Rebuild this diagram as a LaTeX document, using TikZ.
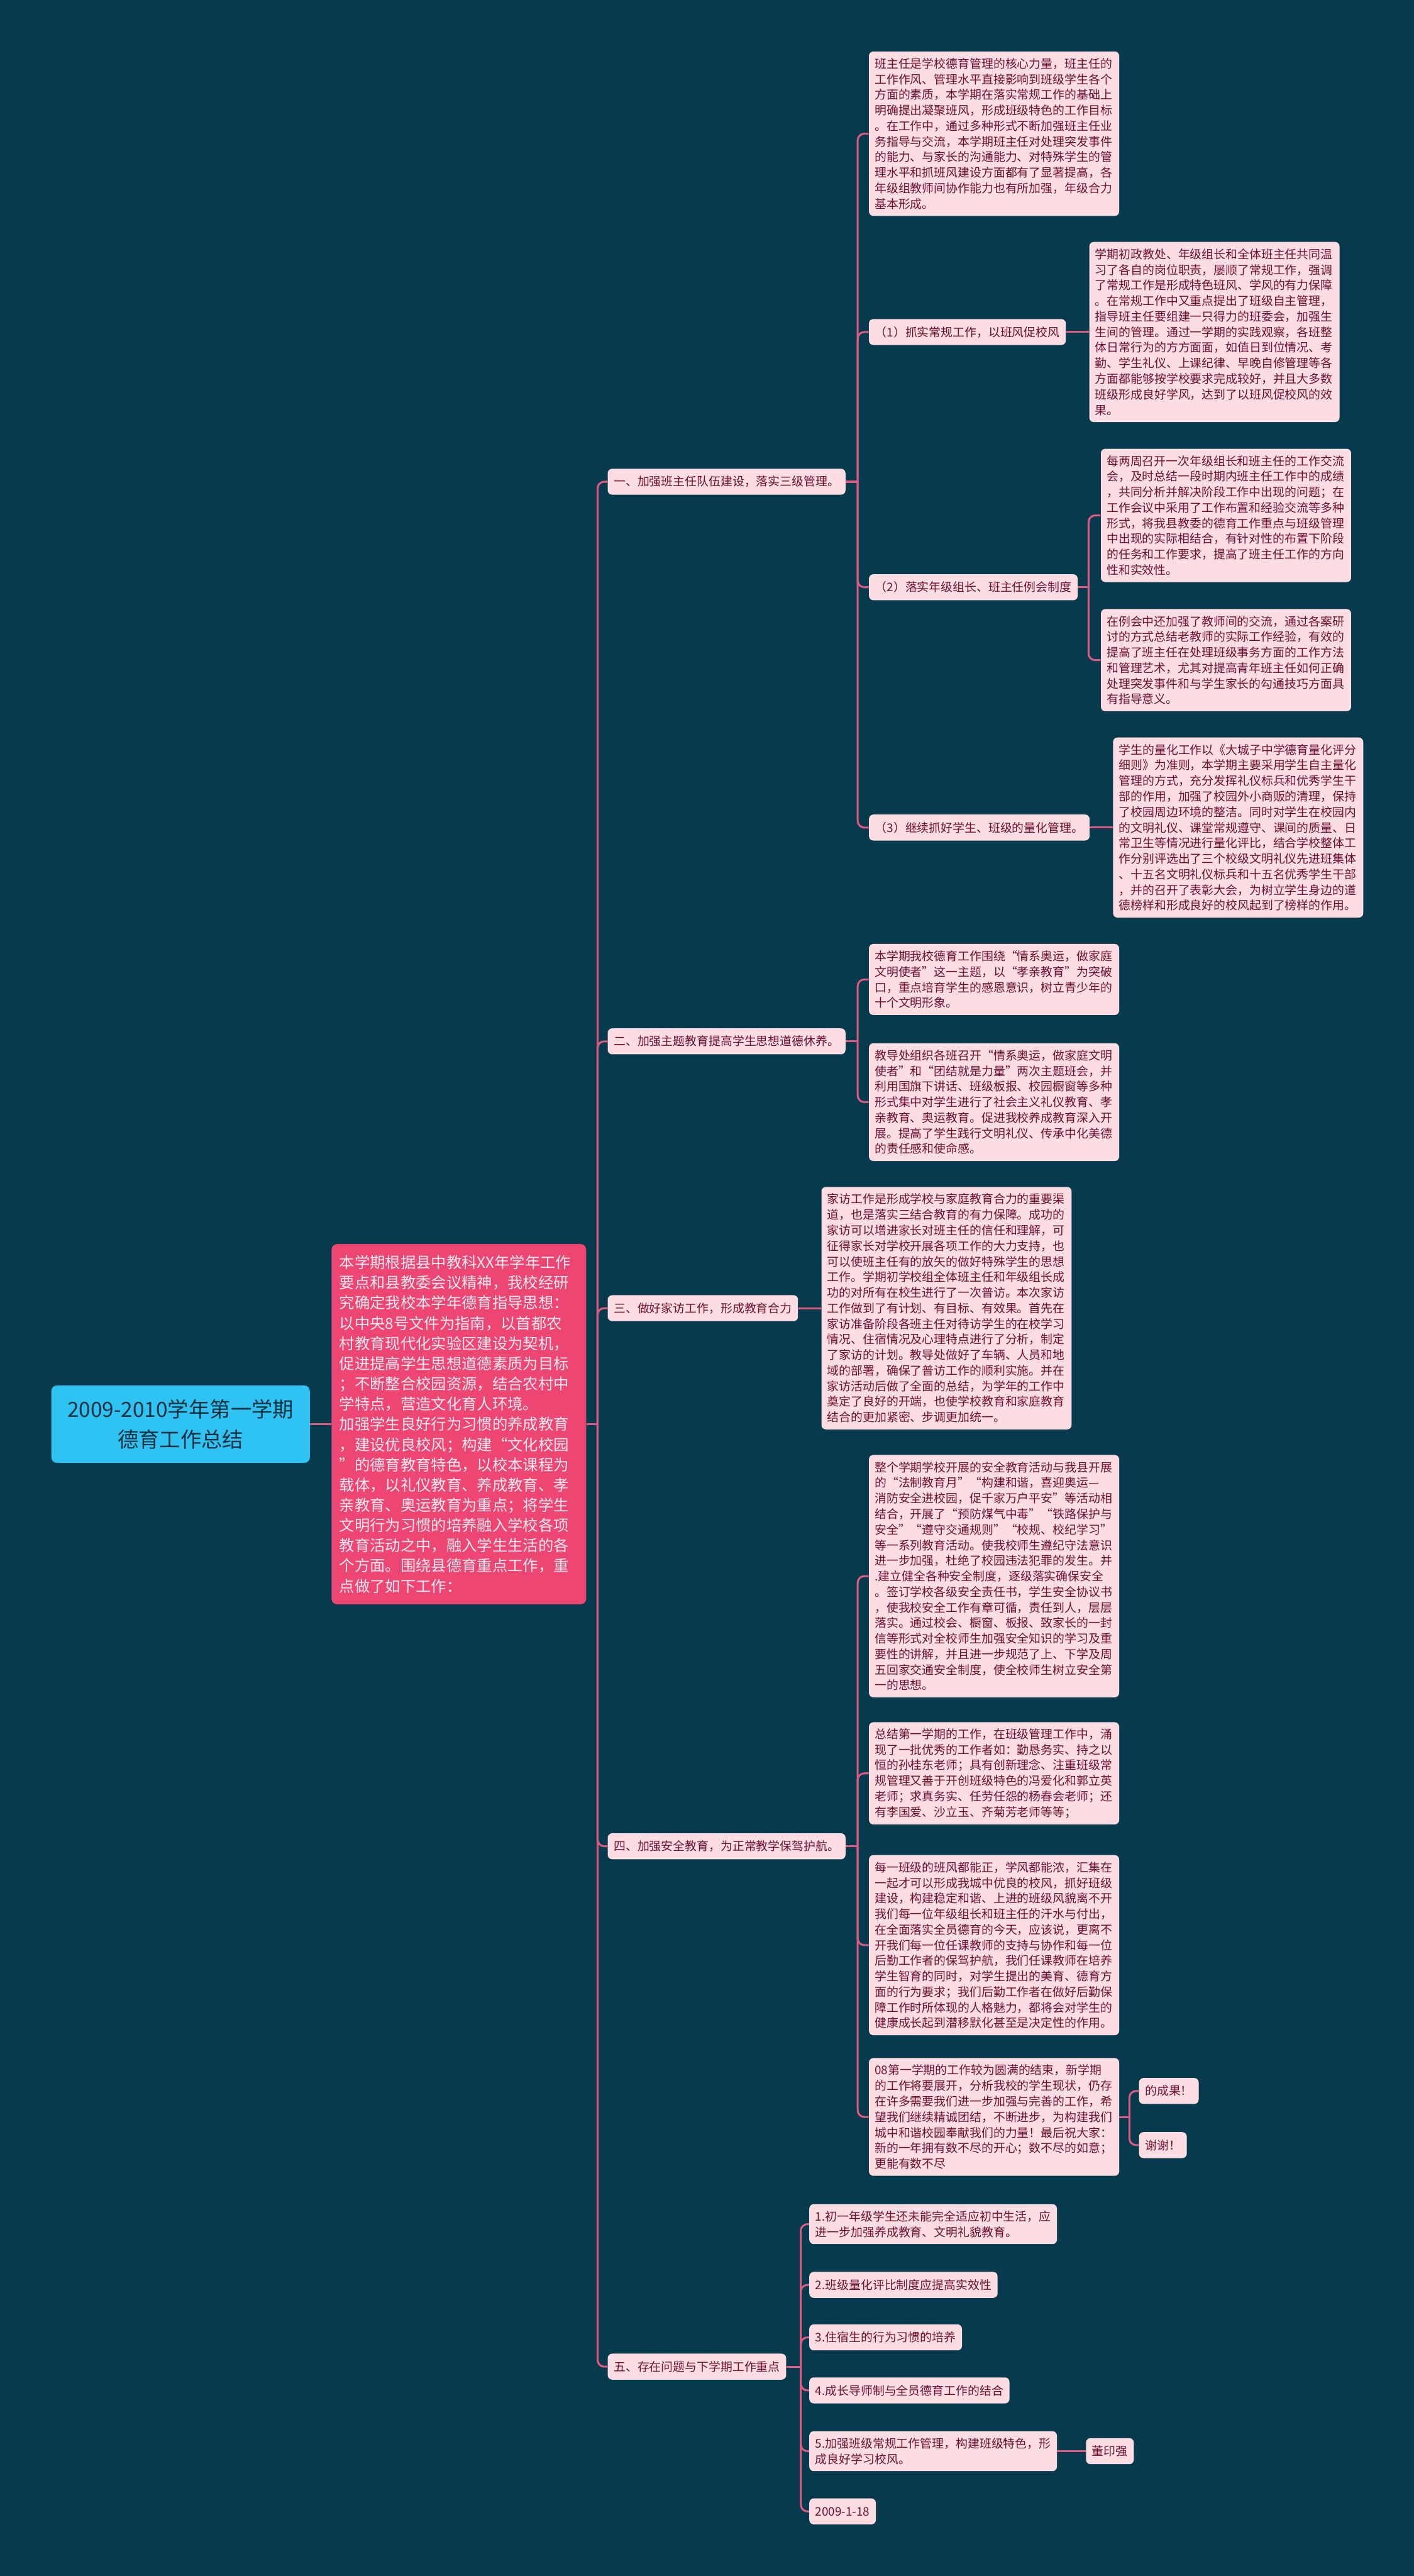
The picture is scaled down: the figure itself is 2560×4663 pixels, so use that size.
\documentclass[tikz,border=0pt]{standalone}
\usepackage{fontspec}
\setmainfont{Noto Sans CJK SC}
\newfontfamily\fwfont[RawFeature=+fwid]{Noto Sans CJK SC}
\newcommand\myql{{\fwfont “}}
\newcommand\myqr{{\fwfont ”}}
\definecolor{bgcol}{HTML}{083A4E}
\definecolor{leafcol}{HTML}{FCDDE4}
\definecolor{leaftext}{HTML}{6E1030}
\definecolor{linkcol}{HTML}{DD5A82}
\definecolor{sumcol}{HTML}{EE4673}
\definecolor{sumtext}{HTML}{FFE9F0}
\definecolor{rootcol}{HTML}{2EC3F3}
\definecolor{roottext}{HTML}{12303F}
\tikzset{
  basebox/.style={rounded corners=4pt, inner ysep=2pt, align=left},
  leaf/.style={basebox, fill=leafcol, text=leaftext, font=\fontsize{10.75pt}{14.1pt}\selectfont, text width=216pt, inner xsep=5.25pt, anchor=west},
  nlines/.style={minimum height={(#1-1)*14.1pt+22pt}},
  tag/.style={basebox, fill=leafcol, text=leaftext, font=\fontsize{10.75pt}{14.1pt}\selectfont, inner xsep=5.5pt, minimum height=23.5pt, anchor=west},
  conn/.style={draw=linkcol, line width=1.75pt, rounded corners=6pt},
}
\begin{document}
\begin{tikzpicture}[x=0.5pt,y=-0.5pt]
\fill[bgcol] (0,0) rectangle (2560,4663);
\useasboundingbox (0,0) rectangle (2560,4663);

% root and summary
\node[fill=rootcol, text=roottext, rounded corners=5pt, minimum width=234pt, minimum height=70pt, align=center, font=\fontsize{19pt}{27.5pt}\selectfont] (root) at (327,2578) {2009-2010学年第一学期\\德育工作总结};
\node[fill=sumcol, text=sumtext, rounded corners=5pt, anchor=west, text width=216.5pt, inner xsep=7pt, minimum height=326pt, align=left, font=\fontsize{13.85pt}{18.3pt}\selectfont] (sum) at (600,2578) {本学期根据县中教科XX年学年工作\\
要点和县教委会议精神，我校经研\\
究确定我校本学年德育指导思想：\\
以中央8号文件为指南，以首都农\\
村教育现代化实验区建设为契机，\\
促进提高学生思想道德素质为目标\\
；不断整合校园资源，结合农村中\\
学特点，营造文化育人环境。\\
加强学生良好行为习惯的养成教育\\
，建设优良校风；构建\myql 文化校园\\
\myqr 的德育教育特色，以校本课程为\\
载体，以礼仪教育、养成教育、孝\\
亲教育、奥运教育为重点；将学生\\
文明行为习惯的培养融入学校各项\\
教育活动之中，融入学生生活的各\\
个方面。围绕县德育重点工作，重\\
点做了如下工作：};

% level 1
\node[tag] (n1) at (1100,872) {一、加强班主任队伍建设，落实三级管理。};
\node[tag] (n2) at (1100,1885) {二、加强主题教育提高学生思想道德休养。};
\node[tag] (n3) at (1100,2368) {三、做好家访工作，形成教育合力};
\node[tag] (n4) at (1100,3342) {四、加强安全教育，为正常教学保驾护航。};
\node[tag] (n5) at (1100,4284) {五、存在问题与下学期工作重点};

% branch one
\node[leaf, nlines=10] (a1) at (1573,242) {班主任是学校德育管理的核心力量，班主任的\\
工作作风、管理水平直接影响到班级学生各个\\
方面的素质，本学期在落实常规工作的基础上\\
明确提出凝聚班风，形成班级特色的工作目标\\
。在工作中，通过多种形式不断加强班主任业\\
务指导与交流，本学期班主任对处理突发事件\\
的能力、与家长的沟通能力、对特殊学生的管\\
理水平和抓班风建设方面都有了显著提高，各\\
年级组教师间协作能力也有所加强，年级合力\\
基本形成。};
\node[tag] (a2) at (1573,601) {（1）抓实常规工作，以班风促校风};
\node[tag] (a3) at (1573,1063) {（2）落实年级组长、班主任例会制度};
\node[tag] (a4) at (1573,1498) {（3）继续抓好学生、班级的量化管理。};

\node[leaf, nlines=11] (b1) at (1972,601) {学期初政教处、年级组长和全体班主任共同温\\
习了各自的岗位职责，屡顺了常规工作，强调\\
了常规工作是形成特色班风、学风的有力保障\\
。在常规工作中又重点提出了班级自主管理，\\
指导班主任要组建一只得力的班委会，加强生\\
生间的管理。通过一学期的实践观察，各班整\\
体日常行为的方方面面，如值日到位情况、考\\
勤、学生礼仪、上课纪律、早晚自修管理等各\\
方面都能够按学校要求完成较好，并且大多数\\
班级形成良好学风，达到了以班风促校风的效\\
果。};
\node[leaf, nlines=8] (b2) at (1993,933) {每两周召开一次年级组长和班主任的工作交流\\
会，及时总结一段时期内班主任工作中的成绩\\
，共同分析并解决阶段工作中出现的问题；在\\
工作会议中采用了工作布置和经验交流等多种\\
形式，将我县教委的德育工作重点与班级管理\\
中出现的实际相结合，有针对性的布置下阶段\\
的任务和工作要求，提高了班主任工作的方向\\
性和实效性。};
\node[leaf, nlines=6] (b3) at (1993,1195) {在例会中还加强了教师间的交流，通过各案研\\
讨的方式总结老教师的实际工作经验，有效的\\
提高了班主任在处理班级事务方面的工作方法\\
和管理艺术，尤其对提高青年班主任如何正确\\
处理突发事件和与学生家长的勾通技巧方面具\\
有指导意义。};
\node[leaf, nlines=11] (b4) at (2015,1498) {学生的量化工作以《大城子中学德育量化评分\\
细则》为准则，本学期主要采用学生自主量化\\
管理的方式，充分发挥礼仪标兵和优秀学生干\\
部的作用，加强了校园外小商贩的清理，保持\\
了校园周边环境的整洁。同时对学生在校园内\\
的文明礼仪、课堂常规遵守、课间的质量、日\\
常卫生等情况进行量化评比，结合学校整体工\\
作分别评选出了三个校级文明礼仪先进班集体\\
、十五名文明礼仪标兵和十五名优秀学生干部\\
，并的召开了表彰大会，为树立学生身边的道\\
德榜样和形成良好的校风起到了榜样的作用。};

% branch two
\node[leaf, nlines=4] (c1) at (1573,1773) {本学期我校德育工作围绕\myql 情系奥运，做家庭\\
文明使者\myqr 这一主题，以\myql 孝亲教育\myqr 为突破\\
口，重点培育学生的感恩意识，树立青少年的\\
十个文明形象。};
\node[leaf, nlines=7] (c2) at (1573,1995) {教导处组织各班召开\myql 情系奥运，做家庭文明\\
使者\myqr 和\myql 团结就是力量\myqr 两次主题班会，并\\
利用国旗下讲话、班级板报、校园橱窗等多种\\
形式集中对学生进行了社会主义礼仪教育、孝\\
亲教育、奥运教育。促进我校养成教育深入开\\
展。提高了学生践行文明礼仪、传承中化美德\\
的责任感和使命感。};

% branch three
\node[leaf, nlines=15] (d1) at (1487,2368) {家访工作是形成学校与家庭教育合力的重要渠\\
道，也是落实三结合教育的有力保障。成功的\\
家访可以增进家长对班主任的信任和理解，可\\
征得家长对学校开展各项工作的大力支持，也\\
可以使班主任有的放矢的做好特殊学生的思想\\
工作。学期初学校组全体班主任和年级组长成\\
功的对所有在校生进行了一次普访。本次家访\\
工作做到了有计划、有目标、有效果。首先在\\
家访准备阶段各班主任对待访学生的在校学习\\
情况、住宿情况及心理特点进行了分析，制定\\
了家访的计划。教导处做好了车辆、人员和地\\
域的部署，确保了普访工作的顺利实施。并在\\
家访活动后做了全面的总结，为学年的工作中\\
奠定了良好的开端，也使学校教育和家庭教育\\
结合的更加紧密、步调更加统一。};

% branch four
\node[leaf, nlines=15] (e1) at (1573,2853) {整个学期学校开展的安全教育活动与我县开展\\
的\myql 法制教育月\myqr\myql 构建和谐，喜迎奥运—\\
消防安全进校园，促千家万户平安\myqr 等活动相\\
结合，开展了\myql 预防煤气中毒\myqr\myql 铁路保护与\\
安全\myqr\myql 遵守交通规则\myqr\myql 校规、校纪学习\myqr\\
等一系列教育活动。使我校师生遵纪守法意识\\
进一步加强，杜绝了校园违法犯罪的发生。并\\
.建立健全各种安全制度，逐级落实确保安全\\
。签订学校各级安全责任书，学生安全协议书\\
，使我校安全工作有章可循，责任到人，层层\\
落实。通过校会、橱窗、板报、致家长的一封\\
信等形式对全校师生加强安全知识的学习及重\\
要性的讲解，并且进一步规范了上、下学及周\\
五回家交通安全制度，使全校师生树立安全第\\
一的思想。};
\node[leaf, nlines=6] (e2) at (1573,3210) {总结第一学期的工作，在班级管理工作中，涌\\
现了一批优秀的工作者如：勤恳务实、持之以\\
恒的孙桂东老师；具有创新理念、注重班级常\\
规管理又善于开创班级特色的冯爱化和郭立英\\
老师；求真务实、任劳任怨的杨春会老师；还\\
有李国爱、沙立玉、齐菊芳老师等等；};
\node[leaf, nlines=11] (e3) at (1573,3521) {每一班级的班风都能正，学风都能浓，汇集在\\
一起才可以形成我城中优良的校风，抓好班级\\
建设，构建稳定和谐、上进的班级风貌离不开\\
我们每一位年级组长和班主任的汗水与付出，\\
在全面落实全员德育的今天，应该说，更离不\\
开我们每一位任课教师的支持与协作和每一位\\
后勤工作者的保驾护航，我们任课教师在培养\\
学生智育的同时，对学生提出的美育、德育方\\
面的行为要求；我们后勤工作者在做好后勤保\\
障工作时所体现的人格魅力，都将会对学生的\\
健康成长起到潜移默化甚至是决定性的作用。};
\node[leaf, nlines=7] (e4) at (1573,3832) {08第一学期的工作较为圆满的结束，新学期\\
的工作将要展开，分析我校的学生现状，仍存\\
在许多需要我们进一步加强与完善的工作，希\\
望我们继续精诚团结，不断进步，为构建我们\\
城中和谐校园奉献我们的力量！最后祝大家：\\
新的一年拥有数不尽的开心；数不尽的如意；\\
更能有数不尽};
\node[tag] (e4a) at (2062,3785) {的成果！};
\node[tag] (e4b) at (2062,3883) {谢谢！};

% branch five
\node[tag, nlines=2] (f1) at (1465,4026) {1.初一年级学生还未能完全适应初中生活，应\\进一步加强养成教育、文明礼貌教育。};
\node[tag] (f2) at (1465,4136) {2.班级量化评比制度应提高实效性};
\node[tag] (f3) at (1465,4231) {3.住宿生的行为习惯的培养};
\node[tag] (f4) at (1465,4327) {4.成长导师制与全员德育工作的结合};
\node[tag, nlines=2] (f5) at (1465,4437) {5.加强班级常规工作管理，构建班级特色，形\\成良好学习校风。};
\node[tag] (f6) at (1465,4546) {2009-1-18};
\node[tag] (g1) at (1966,4437) {董印强};

% junction coordinates
\coordinate (t0) at (1082,2578);
\coordinate (t1) at (1553,872);
\coordinate (t2) at (1553,1885);
\coordinate (t4) at (1553,3342);
\coordinate (t5) at (1450,4284);
\coordinate (t23) at (1971,1063);
\coordinate (t44) at (2045,3832);

% connectors
\draw[conn] (root.east) -- (sum.west);
\draw[conn] (sum.east) -- (t0);
\foreach \c in {n1,n2,n3,n4,n5} \draw[conn] (t0) |- (\c.west);

\draw[conn] (n1.east) -- (t1);
\foreach \c in {a1,a2,a3,a4} \draw[conn] (t1) |- (\c.west);
\draw[conn] (a2.east) -- (b1.west);
\draw[conn] (a3.east) -- (t23);
\foreach \c in {b2,b3} \draw[conn] (t23) |- (\c.west);
\draw[conn] (a4.east) -- (b4.west);

\draw[conn] (n2.east) -- (t2);
\foreach \c in {c1,c2} \draw[conn] (t2) |- (\c.west);

\draw[conn] (n3.east) -- (d1.west);

\draw[conn] (n4.east) -- (t4);
\foreach \c in {e1,e2,e3,e4} \draw[conn] (t4) |- (\c.west);
\draw[conn] (e4.east) -- (t44);
\foreach \c in {e4a,e4b} \draw[conn] (t44) |- (\c.west);

\draw[conn] (n5.east) -- (t5);
\foreach \c in {f1,f2,f3,f4,f5,f6} \draw[conn] (t5) |- (\c.west);
\draw[conn] (f5.east) -- (g1.west);
\end{tikzpicture}
\end{document}
